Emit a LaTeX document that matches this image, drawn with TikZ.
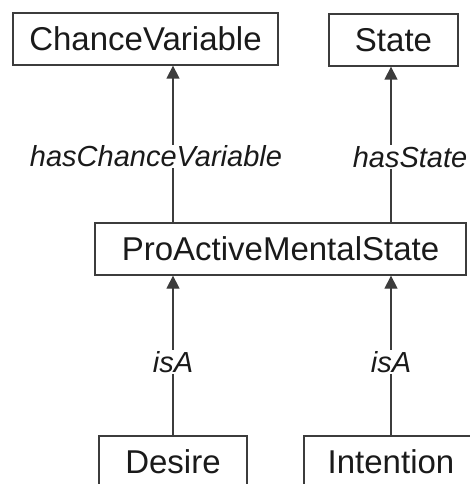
\documentclass[tikz,border=0pt]{standalone}
\usepackage{fontspec}
\setmainfont{Liberation Sans}
\usetikzlibrary{arrows.meta}
\definecolor{edge}{HTML}{3C3C3C}
\definecolor{ink}{HTML}{1A1A1A}
\tikzset{
  cls/.style={draw=edge, line width=1.3pt, minimum height=52pt, inner sep=0pt,
    text=ink, font=\fontsize{33}{39}\selectfont},
  rel/.style={draw=edge, line width=1.3pt, -{Triangle[width=13pt,length=13pt]}},
  lbl/.style={fill=white, inner sep=1pt, text=ink,
    font=\fontsize{29}{35}\selectfont\itshape}
}
\begin{document}
\begin{tikzpicture}[x=1pt, y=-1pt]
  \useasboundingbox (0,0) rectangle (470,484);
  \clip (0,0) rectangle (470,484);
  % classes
  \node[cls, minimum width=265pt] (cv)   at (145.5,39)  {ChanceVariable};
  \node[cls, minimum width=129pt] (st)   at (393.5,40)  {State};
  \node[cls, minimum width=371pt] (pams) at (280.5,249) {ProActiveMentalState};
  \node[cls, minimum width=148pt] (des)  at (173,462)   {Desire};
  \node[cls, minimum width=174pt] (int)  at (391,462)   {Intention};
  % properties of ProActiveMentalState
  \draw[rel] (des.north |- pams.north) --
    node[lbl, pos=0.42, xshift=-17pt] {hasChanceVariable} (des.north |- cv.south);
  \draw[rel] (int.north |- pams.north) --
    node[lbl, pos=0.42, xshift=19pt] {hasState} (int.north |- st.south);
  % subclass links
  \draw[rel] (des.north) -- node[lbl, pos=0.46] {isA} (des.north |- pams.south);
  \draw[rel] (int.north) -- node[lbl, pos=0.46] {isA} (int.north |- pams.south);
\end{tikzpicture}
\end{document}
